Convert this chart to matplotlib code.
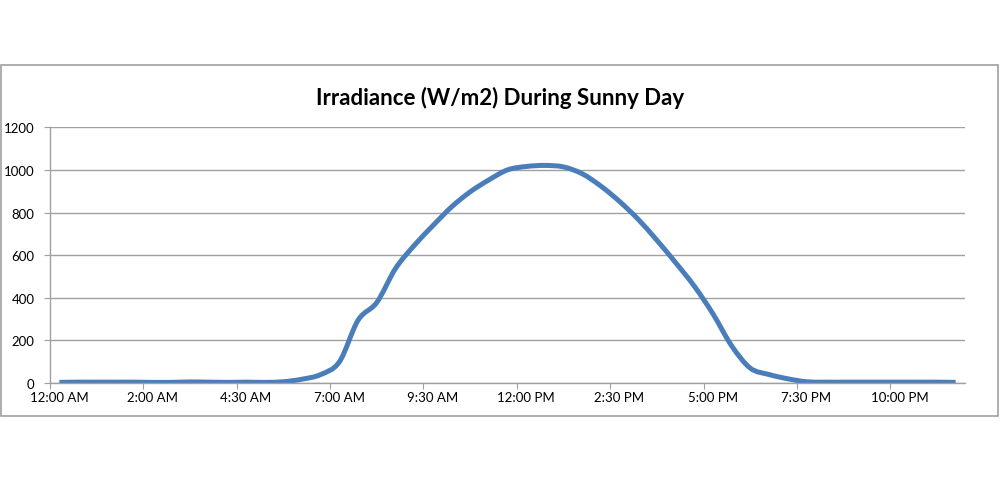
import matplotlib
matplotlib.use("Agg")
import matplotlib.pyplot as plt
from matplotlib.patches import Rectangle, PathPatch
from matplotlib.path import Path

# readings through the day (the first few samples are not evenly spaced)
times = ["12:00 AM", "12:30 AM", "1:00 AM", "1:30 AM", "1:45 AM",
         "2:00 AM", "2:30 AM", "3:00 AM", "3:30 AM", "4:00 AM",
         "4:30 AM", "5:00 AM", "5:30 AM", "6:00 AM", "6:30 AM",
         "7:00 AM", "7:30 AM", "8:00 AM", "8:30 AM", "9:00 AM",
         "9:30 AM", "10:00 AM", "10:30 AM", "11:00 AM", "11:30 AM",
         "12:00 PM", "12:30 PM", "1:00 PM", "1:30 PM", "2:00 PM",
         "2:30 PM", "3:00 PM", "3:30 PM", "4:00 PM", "4:30 PM",
         "5:00 PM", "5:30 PM", "6:00 PM", "6:30 PM", "7:00 PM",
         "7:30 PM", "8:00 PM", "8:30 PM", "9:00 PM", "9:30 PM",
         "10:00 PM", "10:30 PM", "11:00 PM", "11:30 PM"]

irradiance = [3, 4, 4, 4, 4, 3, 3, 5, 4, 3,
              4, 3, 6, 18, 40, 100, 295, 378, 537, 645,
              738, 826, 897, 953, 1000, 1016, 1021, 1014, 982, 924,
              852, 768, 670, 565, 455, 325, 175, 70, 40, 20,
              6, 4, 4, 4, 4, 4, 4, 4, 3]

label_step = 5
grey = "#a0a0a0"

plt.rcParams["font.family"] = ["Lato", "DejaVu Sans"]

fig = plt.figure(figsize=(10, 4.85), dpi=100)
ax = fig.add_axes([0.05, 0.2082, 0.915, 0.5273])

x = list(range(len(times)))

# smoothed line like Excel: bezier segments through every reading
verts = [(x[0], irradiance[0])]
codes = [Path.MOVETO]
n = len(x)
for i in range(n - 1):
    x0, y0 = x[max(i - 1, 0)], irradiance[max(i - 1, 0)]
    x1, y1 = x[i], irradiance[i]
    x2, y2 = x[i + 1], irradiance[i + 1]
    x3, y3 = x[min(i + 2, n - 1)], irradiance[min(i + 2, n - 1)]
    verts += [(x1 + (x2 - x0) / 6, y1 + (y2 - y0) / 6),
              (x2 - (x3 - x1) / 6, y2 - (y3 - y1) / 6),
              (x2, y2)]
    codes += [Path.CURVE4] * 3
ax.add_patch(PathPatch(Path(verts, codes), facecolor="none",
                       edgecolor="#4a7ebb", lw=3.6, capstyle="butt",
                       joinstyle="round"))

ax.set_xlim(-0.5, len(times) - 0.5)
ax.set_ylim(0, 1200)
ax.set_yticks(range(0, 1201, 200))
ax.yaxis.grid(True, color=grey, lw=1)
ax.set_axisbelow(True)

# tick marks sit between categories, labels on every fifth category
ax.set_xticks([i - 0.5 for i in range(0, len(times), label_step)])
ax.set_xticklabels([])
ax.set_xticks(x[::label_step], minor=True)
ax.set_xticklabels(times[::label_step], minor=True)
ax.tick_params(axis="x", which="minor", length=0, pad=6, labelsize=9.5)
ax.tick_params(axis="x", which="major", length=4, color=grey, direction="out")
ax.tick_params(axis="y", length=4, color=grey, pad=7, labelsize=9.5)

for side in ["top", "right"]:
    ax.spines[side].set_visible(False)
for side in ["left", "bottom"]:
    ax.spines[side].set_color(grey)
    ax.spines[side].set_linewidth(1)

fig.text(0.5, 0.798, "Irradiance (W/m2) During Sunny Day", ha="center",
         va="center", fontsize=16, fontweight="bold")

fig.patches.append(Rectangle((0.001, 0.1402), 0.997, 0.7237,
                             transform=fig.transFigure, fill=False,
                             edgecolor=grey, lw=1.2))

fig.savefig("out.png", dpi=100)
